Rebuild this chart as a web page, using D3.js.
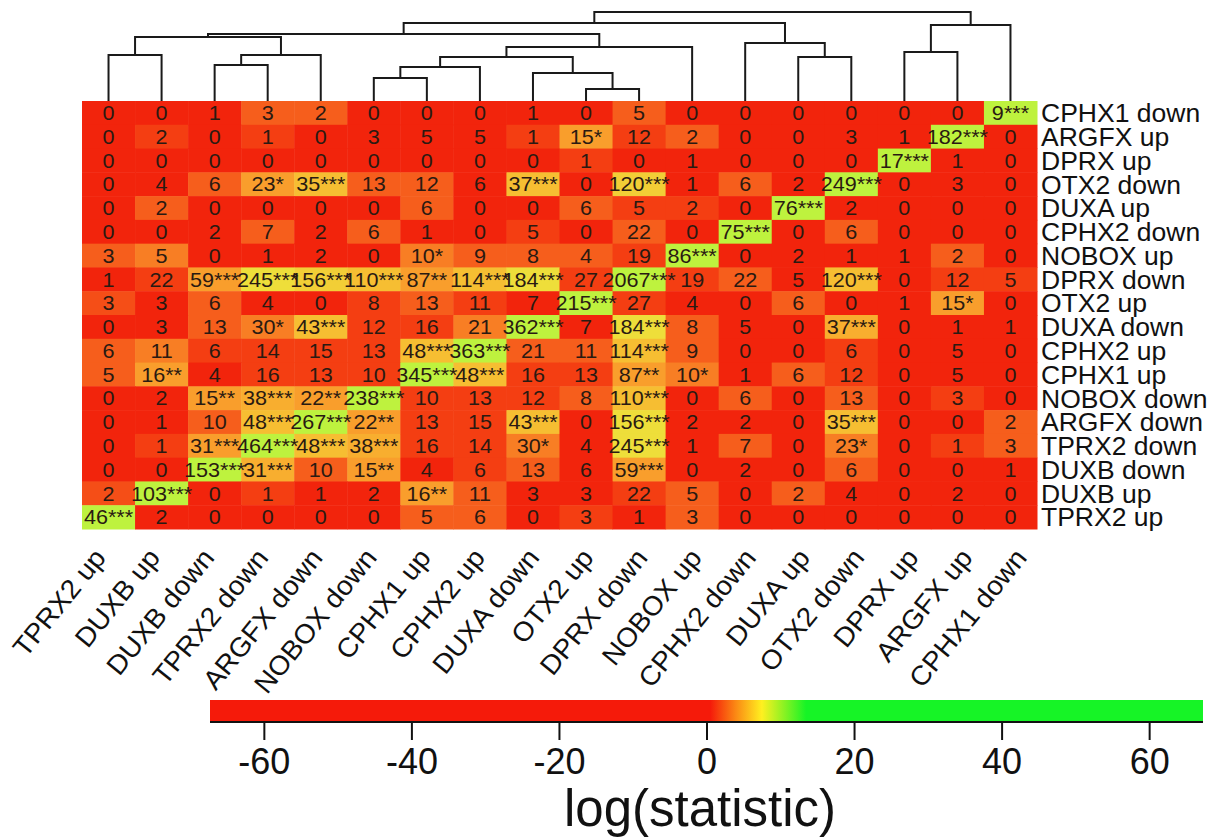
<!DOCTYPE html>
<html>
<head>
<meta charset="utf-8">
<script src="https://cdn.jsdelivr.net/npm/d3@7.9.0/dist/d3.min.js"></script>
<style>
  body { margin: 0; background: #fff; }
  svg { display: block; font-family: "Liberation Sans", Arial, sans-serif; }
</style>
</head>
<body>
<svg id="chart" width="1232" height="840"></svg>
<script>
// column order (left to right, after clustering)
const colLabels = ['TPRX2 up', 'DUXB up', 'DUXB down', 'TPRX2 down', 'ARGFX down', 'NOBOX down',
  'CPHX1 up', 'CPHX2 up', 'DUXA down', 'OTX2 up', 'DPRX down', 'NOBOX up', 'CPHX2 down',
  'DUXA up', 'OTX2 down', 'DPRX up', 'ARGFX up', 'CPHX1 down'];

// row order (top to bottom)
const rowLabels = ['CPHX1 down', 'ARGFX up', 'DPRX up', 'OTX2 down', 'DUXA up', 'CPHX2 down',
  'NOBOX up', 'DPRX down', 'OTX2 up', 'DUXA down', 'CPHX2 up', 'CPHX1 up', 'NOBOX down',
  'ARGFX down', 'TPRX2 down', 'DUXB down', 'DUXB up', 'TPRX2 up'];

// overlap counts with significance stars, as printed in each cell
const cellLabels = [
  ['0','0','1','3','2','0','0','0','1','0','5','0','0','0','0','0','0','9***'],
  ['0','2','0','1','0','3','5','5','1','15*','12','2','0','0','3','1','182***','0'],
  ['0','0','0','0','0','0','0','0','0','1','0','1','0','0','0','17***','1','0'],
  ['0','4','6','23*','35***','13','12','6','37***','0','120***','1','6','2','249***','0','3','0'],
  ['0','2','0','0','0','0','6','0','0','6','5','2','0','76***','2','0','0','0'],
  ['0','0','2','7','2','6','1','0','5','0','22','0','75***','0','6','0','0','0'],
  ['3','5','0','1','2','0','10*','9','8','4','19','86***','0','2','1','1','2','0'],
  ['1','22','59***','245***','156***','110***','87**','114***','184***','27','2067***','19','22','5','120***','0','12','5'],
  ['3','3','6','4','0','8','13','11','7','215***','27','4','0','6','0','1','15*','0'],
  ['0','3','13','30*','43***','12','16','21','362***','7','184***','8','5','0','37***','0','1','1'],
  ['6','11','6','14','15','13','48***','363***','21','11','114***','9','0','0','6','0','5','0'],
  ['5','16**','4','16','13','10','345***','48***','16','13','87**','10*','1','6','12','0','5','0'],
  ['0','2','15**','38***','22**','238***','10','13','12','8','110***','0','6','0','13','0','3','0'],
  ['0','1','10','48***','267***','22**','13','15','43***','0','156***','2','2','0','35***','0','0','2'],
  ['0','1','31***','464***','48***','38***','16','14','30*','4','245***','1','7','0','23*','0','1','3'],
  ['0','0','153***','31***','10','15**','4','6','13','6','59***','0','2','0','6','0','0','1'],
  ['2','103***','0','1','1','2','16**','11','3','3','22','5','0','2','4','0','2','0'],
  ['46***','2','0','0','0','0','5','6','0','3','1','3','0','0','0','0','0','0']
];

// colour level of each cell (0 = red ... 7 = yellow-green)
const shade = [
  [0,0,0,2,2,0,0,0,0,0,2,0,0,0,0,0,0,7],
  [0,1,0,1,0,0,0,0,1,4,1,2,0,0,0,0,7,0],
  [0,0,0,0,0,0,0,0,0,1,0,0,0,0,0,7,0,0],
  [0,0,2,4,5,2,2,0,5,0,5.5,0,2,0,7,0,0,0],
  [0,2,0,0,0,0,2,0,0,2,1,1,0,7,0,0,0,0],
  [0,0,0,2,0,2,0,0,1,0,2,0,7,0,2,0,0,0],
  [2,3,0,0,0,0,3,2,2,2,1,7,0,0,0,0,2,0],
  [0,1,4,6,5.5,5,4,5,6,1,7,1,2,0,5,0,1,1],
  [1.5,0,2,0,0,1,2,1,0,7,1,0,0,2,0,0,4,0],
  [0,0,2,3,5,1,1,3,7,0,6,2,0,0,4.5,0,0,0],
  [2,3,1,1,1,1,5,7,2,2,5,2,0,0,1,0,0,0],
  [2,4,0,1,1,1,7,5,1,1,4,3,0,2,1,0,0,0],
  [0,0,4,4.5,4,7,1,1,1,2,5,0,2,0,2,0,1,0],
  [0,0,2,5,7,4,1,1,5,0,6,0,0,0,5,0,0,2],
  [0,1,4,7,5,4.5,1,1,3,0,6,0,2,0,3,0,1,2],
  [0,0,7,4.5,2,4,0,1,2,0,4,0,0,0,2,0,0,0],
  [1.5,7,0,1,0,0,4,2,0,0,1,2,0,2,0,0,0,0],
  [7,0,0,0,0,0,2,2,0,1,0,2,0,0,0,0,0,0]
];
const shadeColors = ['#f2240c', '#f43e12', '#f65e1c', '#f87e24', '#f99e2c', '#f6be32', '#eede3a', '#bef23e'];

// column dendrogram, hclust style: negative = leaf (1-based column), positive = earlier merge
const merges = [
  [-1, -2], [-3, -4], [2, -5], [1, 3], [-6, -7], [5, -8], [-10, -11], [-9, 7], [6, 8],
  [9, -12], [4, 10], [-14, -15], [-13, 12], [11, 13], [-16, -17], [15, -18], [14, 16]
];
const mergeHeights = [46, 36, 46, 64, 23, 34, 12, 28, 44, 54, 67, 44, 58, 78, 49, 76, 89];

// colour key
const keyTicks = [-60, -40, -20, 0, 20, 40, 60];
const keyStops = [
  { v: -67.3, c: '#f51a0a' }, { v: 0.5, c: '#f51a0a' }, { v: 4, c: '#fb8a14' },
  { v: 7.5, c: '#fff020' }, { v: 13.5, c: '#16f426' }, { v: 67.3, c: '#16f426' }
];

const svg = d3.select('#chart');
const font = '"Liberation Sans", Arial, sans-serif';

const x = d3.scaleBand().domain(colLabels.map((d, i) => i)).range([82, 1037]);
const y = d3.scaleBand().domain(rowLabels.map((d, i) => i)).range([101, 529]);
const colour = d3.scaleLinear().domain(d3.range(shadeColors.length)).range(shadeColors);

const cells = [];
cellLabels.forEach((row, r) => row.forEach((label, c) => {
  cells.push({ r, c, label, level: shade[r][c] });
}));

const heat = svg.append('g');
heat.selectAll('rect')
  .data(cells)
  .join('rect')
  .attr('x', (d) => x(d.c))
  .attr('y', (d) => y(d.r))
  .attr('width', x.bandwidth() + 0.5)
  .attr('height', y.bandwidth() + 0.5)
  .attr('fill', (d) => colour(d.level));

heat.selectAll('text')
  .data(cells)
  .join('text')
  .attr('transform', (d) => `translate(${x(d.c) + x.bandwidth() / 2},${y(d.r) + y.bandwidth() / 2}) scale(1.08,1)`)
  .attr('dy', '0.36em')
  .attr('text-anchor', 'middle')
  .attr('font-size', 20)
  .attr('fill', '#2a1a12')
  .text((d) => d.label);

// row labels
svg.append('g').selectAll('text')
  .data(rowLabels)
  .join('text')
  .attr('transform', (d, i) => `translate(1041,${y(i) + y.bandwidth() / 2}) scale(1.02,1)`)
  .attr('dy', '0.36em')
  .attr('font-size', 26)
  .attr('fill', '#111')
  .text((d) => d);

// column labels, anchored at their upper end
const labelEnd = d3.scalePoint().domain(colLabels).range([92, 1013]);
svg.append('g').selectAll('text')
  .data(colLabels)
  .join('text')
  .attr('transform', (d) => `translate(${labelEnd(d)},${546}) rotate(-51) scale(1.04,1)`)
  .attr('dy', '0.72em')
  .attr('text-anchor', 'end')
  .attr('font-size', 27)
  .attr('fill', '#111')
  .text((d) => d);

// dendrogram
const h = d3.scaleLinear().domain([0, d3.max(mergeHeights)]).range([101, 12]);
const nodes = [];
function pos(id) {
  if (id < 0) return { x: x(-id - 1) + x.bandwidth() / 2, y: h(0) };
  return nodes[id - 1];
}
const segs = [];
merges.forEach(([a, b], i) => {
  const pa = pos(a), pb = pos(b), yy = h(mergeHeights[i]);
  segs.push([[pa.x, pa.y], [pa.x, yy], [pb.x, yy], [pb.x, pb.y]]);
  nodes.push({ x: (pa.x + pb.x) / 2, y: yy });
});
svg.append('g').selectAll('path')
  .data(segs)
  .join('path')
  .attr('d', d3.line())
  .attr('fill', 'none')
  .attr('stroke', '#1a1a1a')
  .attr('stroke-width', 2);

// colour key
const k = d3.scaleLinear().domain([-67.3, 67.3]).range([210, 1203]);
const grad = svg.append('defs').append('linearGradient')
  .attr('id', 'keygrad').attr('x1', '0%').attr('x2', '100%');
grad.selectAll('stop')
  .data(keyStops)
  .join('stop')
  .attr('offset', (d) => (k(d.v) - 210) / (1203 - 210))
  .attr('stop-color', (d) => d.c);
svg.append('rect')
  .attr('x', 210).attr('y', 700).attr('width', 993).attr('height', 22)
  .attr('fill', 'url(#keygrad)');

const keyAxis = svg.append('g')
  .attr('transform', 'translate(0,722)')
  .call(d3.axisBottom(k).tickValues(keyTicks).tickSize(18).tickPadding(8).tickFormat((d) => String(d)));
keyAxis.select('.domain').attr('d', 'M210,0H1203').attr('stroke', '#111').attr('stroke-width', 2);
keyAxis.selectAll('.tick line').attr('stroke', '#111').attr('stroke-width', 2);
keyAxis.selectAll('.tick text').attr('font-size', 36).attr('font-family', font).attr('fill', '#111');

svg.append('text')
  .attr('x', 700).attr('y', 826)
  .attr('text-anchor', 'middle')
  .attr('font-size', 51)
  .attr('fill', '#111')
  .text('log(statistic)');
</script>
</body>
</html>
